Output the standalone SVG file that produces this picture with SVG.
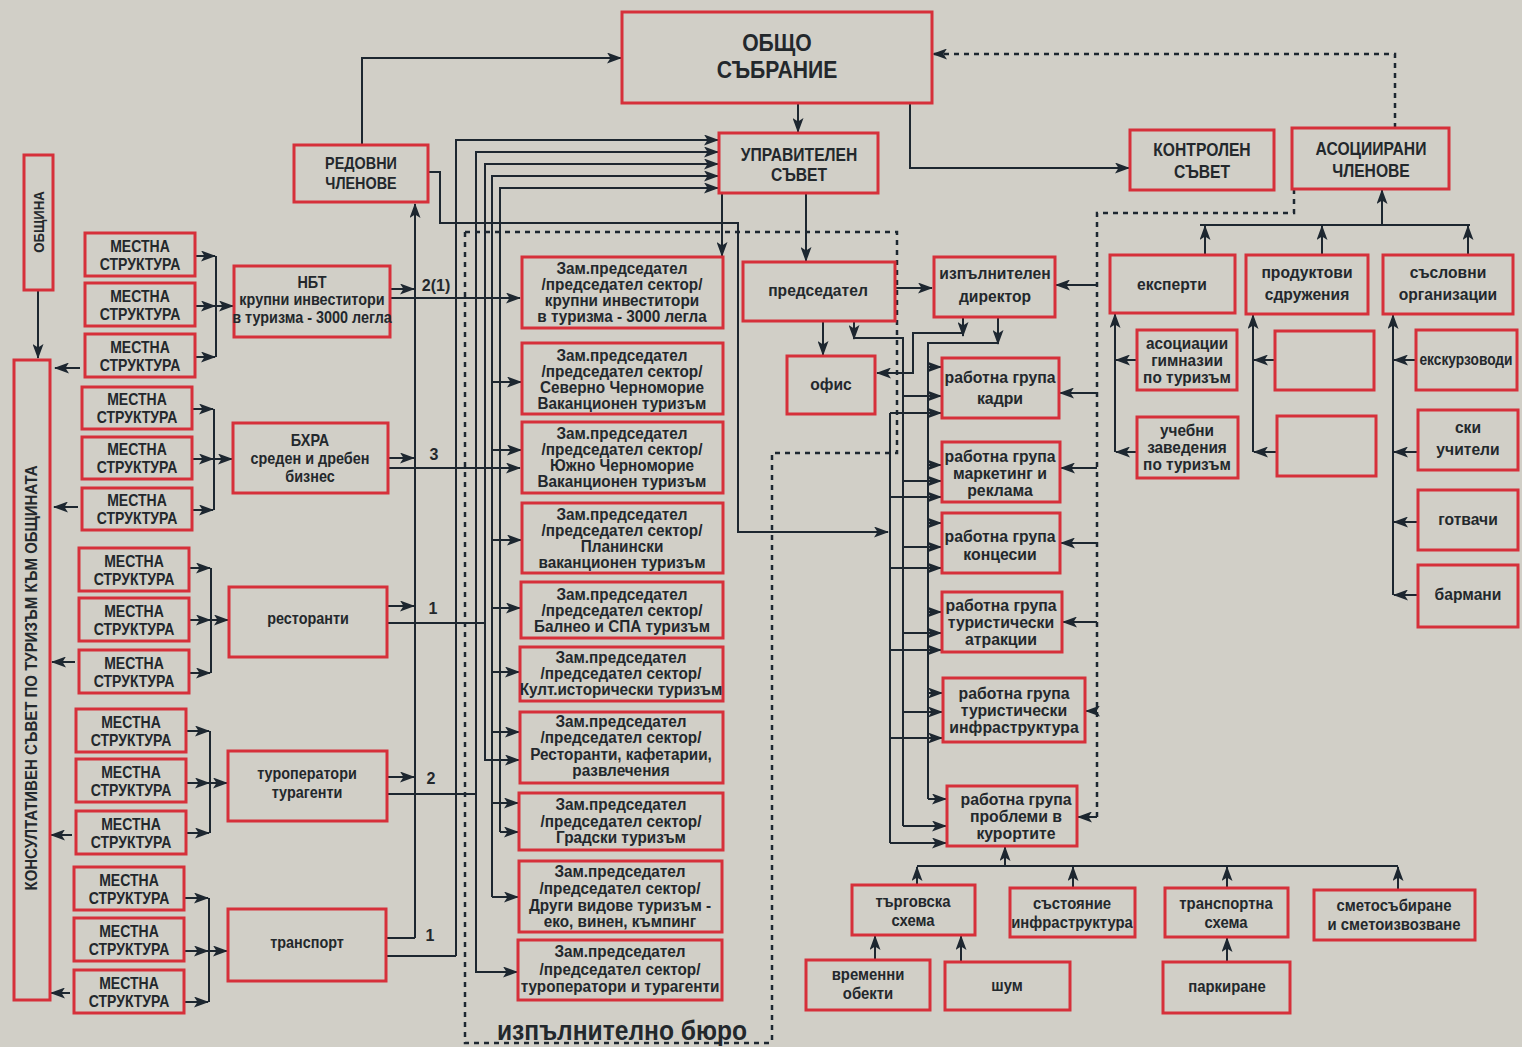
<svg xmlns="http://www.w3.org/2000/svg" width="1522" height="1047" viewBox="0 0 1522 1047">
<style>
.bx{fill:none;stroke:#d6303a;stroke-width:3}
.ln{fill:none;stroke:#1d2730;stroke-width:2}
.ar{marker-end:url(#ah)}
.ds{fill:none;stroke:#1d2730;stroke-width:2.5;stroke-dasharray:5 5}
.t{font-family:"Liberation Sans",Arial,sans-serif;font-weight:bold;fill:#23282c;text-anchor:middle;transform-box:fill-box;transform-origin:center}
.m{font-size:16.5px;transform:scaleX(.85)}
.z{font-size:17px;transform:scaleX(.9)}
.g{font-size:16px;transform:scaleX(.9)}
.h{font-size:18px;transform:scaleX(.87)}
.w{font-size:17px;transform:scaleX(.93)}
.r{font-size:17px;transform:scaleX(.92)}
.q{font-size:16px;transform:scaleX(.96)}
.b{font-size:16px;transform:scaleX(.93)}
.n{font-size:16px}
</style>
<defs>
<marker id="ah" viewBox="0 0 15 11" refX="14" refY="5.5" markerWidth="15" markerHeight="11" markerUnits="userSpaceOnUse" orient="auto"><path d="M0,0 L15,5.5 L0,11 L3.5,5.5 Z" fill="#1d2730"/></marker>
</defs>
<rect x="0" y="0" width="1522" height="1047" fill="#d1cfc7"/>

<g id="connectors">
<path class="ln ar" d="M362,145 V58 H621"/>
<path class="ln ar" d="M798,103 V132"/>
<path class="ln ar" d="M910,103 V168 H1129"/>
<path class="ds ar" d="M1395,128 V54 H933"/>
<path class="ln ar" d="M722,193 V256"/>
<path class="ln ar" d="M806,193 V261"/>
<path class="ln ar" d="M428,172 H440 V223 H738 V532 H888"/>
<path class="ln ar" d="M415,938 V204"/>
<path class="ln" d="M386,938 H415"/>
<path class="ln ar" d="M390,289 H414"/>
<path class="ln ar" d="M388,458 H414"/>
<path class="ln ar" d="M387,606 H414"/>
<path class="ln ar" d="M387,777 H414"/>
<path class="ln ar" d="M390,298 H520"/>
<path class="ln ar" d="M388,468 H520"/>
<path class="ln" d="M387,623 H485"/>
<path class="ln" d="M387,794 H476"/>
<path class="ln" d="M386,956 H456"/>
<path class="ln ar" d="M456,956 V140 H718"/>
<path class="ln ar" d="M476,794 V152 H718"/>
<path class="ln ar" d="M476,794 V972 H517"/>
<path class="ln ar" d="M485,623 V164 H718"/>
<path class="ln ar" d="M485,623 V760 H519"/>
<path class="ln ar" d="M492,897 V176 H718"/>
<path class="ln ar" d="M492,897 H518"/>
<path class="ln ar" d="M500,832 V188 H718"/>
<path class="ln ar" d="M500,832 H518"/>
<path class="ln ar" d="M492,382 H521"/>
<path class="ln ar" d="M492,450 H521"/>
<path class="ln ar" d="M492,540 H521"/>
<path class="ln ar" d="M492,608 H520"/>
<path class="ln ar" d="M492,672 H519"/>
<path class="ln ar" d="M492,732 H519"/>
<path class="ln ar" d="M492,803 H518"/>
<path class="ln" d="M216,256 V357"/>
<path class="ln ar" d="M195,256 H215"/><path class="ln ar" d="M195,306 H215"/><path class="ln ar" d="M195,357 H215"/><path class="ln ar" d="M216,306 H233"/>
<path class="ln" d="M214,409 V510"/>
<path class="ln ar" d="M192,409 H213"/><path class="ln ar" d="M192,459 H213"/><path class="ln ar" d="M192,510 H213"/><path class="ln ar" d="M214,459 H232"/>
<path class="ln" d="M211,568 V673"/>
<path class="ln ar" d="M189,568 H210"/><path class="ln ar" d="M189,620 H210"/><path class="ln ar" d="M189,673 H210"/><path class="ln ar" d="M211,620 H228"/>
<path class="ln" d="M210,731 V833"/>
<path class="ln ar" d="M186,731 H209"/><path class="ln ar" d="M186,783 H209"/><path class="ln ar" d="M186,833 H209"/><path class="ln ar" d="M210,783 H227"/>
<path class="ln" d="M209,898 V1002"/>
<path class="ln ar" d="M184,898 H208"/><path class="ln ar" d="M184,951 H208"/><path class="ln ar" d="M184,1002 H208"/><path class="ln ar" d="M209,951 H227"/>
<path class="ln ar" d="M38,290 V358"/>
<path class="ln ar" d="M80,368 H55"/>
<path class="ln ar" d="M78,507 H54"/>
<path class="ln ar" d="M75,662 H52"/>
<path class="ln ar" d="M72,835 H51"/>
<path class="ln ar" d="M70,993 H51"/>
<path class="ds" d="M465,232 H897 V453 H772 V1043 M465,232 V1043 H772"/>
<path class="ln ar" d="M823,321 V355"/>
<path class="ln ar" d="M854,321 V339"/>
<path class="ln" d="M854,338 H903 V826"/>
<path class="ln ar" d="M895,288 H932"/>
<path class="ln ar" d="M963,317 V336"/>
<path class="ln ar" d="M963,333 H913 V373 H877"/>
<path class="ln ar" d="M998,317 V344"/>
<path class="ln" d="M998,343 H928 V799"/>
<path class="ln" d="M890,413 V843"/>
<path class="ln ar" d="M890,413 H941"/>
<path class="ln ar" d="M890,497 H941"/>
<path class="ln ar" d="M890,568 H941"/>
<path class="ln ar" d="M890,650 H941"/>
<path class="ln ar" d="M890,738 H942"/>
<path class="ln ar" d="M890,843 H946"/>
<path class="ln ar" d="M903,396 H941"/>
<path class="ln ar" d="M903,481 H941"/>
<path class="ln ar" d="M903,547 H941"/>
<path class="ln ar" d="M903,633 H941"/>
<path class="ln ar" d="M903,712 H942"/>
<path class="ln ar" d="M903,826 H946"/>
<path class="ln ar" d="M928,367 H941"/>
<path class="ln ar" d="M928,465 H941"/>
<path class="ln ar" d="M928,523 H941"/>
<path class="ln ar" d="M928,612 H941"/>
<path class="ln ar" d="M928,693 H942"/>
<path class="ln ar" d="M928,799 H946"/>
<path class="ds" d="M1294,189 V213 H1097 V817"/>
<path class="ln ar" d="M1097,285 H1056"/>
<path class="ln ar" d="M1097,393 H1060"/>
<path class="ln ar" d="M1097,468 H1061"/>
<path class="ln ar" d="M1097,543 H1061"/>
<path class="ln ar" d="M1097,622 H1063"/>
<path class="ln ar" d="M1097,711 H1086"/>
<path class="ln ar" d="M1097,817 H1078"/>
<path class="ln ar" d="M1382,225 V190"/>
<path class="ln" d="M1200,225 H1470"/>
<path class="ln ar" d="M1205,255 V226"/>
<path class="ln ar" d="M1322,255 V226"/>
<path class="ln ar" d="M1468,255 V226"/>
<path class="ln ar" d="M1115,452 V314"/>
<path class="ln ar" d="M1137,360 H1116"/>
<path class="ln ar" d="M1137,452 H1116"/>
<path class="ln ar" d="M1253,452 V315"/>
<path class="ln ar" d="M1275,360 H1254"/>
<path class="ln ar" d="M1277,452 H1254"/>
<path class="ln ar" d="M1393,595 V315"/>
<path class="ln ar" d="M1416,360 H1394"/>
<path class="ln ar" d="M1418,452 H1394"/>
<path class="ln ar" d="M1418,522 H1394"/>
<path class="ln ar" d="M1418,595 H1394"/>
<path class="ln ar" d="M1005,866 V847"/>
<path class="ln" d="M917,866 H1398"/>
<path class="ln ar" d="M917,885 V867"/>
<path class="ln ar" d="M1073,888 V867"/>
<path class="ln ar" d="M1227,888 V867"/>
<path class="ln ar" d="M1398,890 V867"/>
<path class="ln ar" d="M875,960 V936"/>
<path class="ln ar" d="M961,962 V936"/>
<path class="ln ar" d="M1227,962 V938"/>
</g>

<g id="labels">
<text class="t n" x="436" y="291">2(1)</text>
<text class="t n" x="434" y="460">3</text>
<text class="t n" x="433" y="614">1</text>
<text class="t n" x="431" y="784">2</text>
<text class="t n" x="430" y="941">1</text>
<text class="t" x="622" y="1040" style="font-size:27px" textLength="250" lengthAdjust="spacingAndGlyphs">изпълнително бюро</text>
</g>

<g id="obshto-sabranie"><rect class="bx" x="622" y="12" width="310" height="91"/><text class="t" style="font-size:23px;transform:scaleX(.92)" x="777" y="51">ОБЩО</text><text class="t" style="font-size:23px;transform:scaleX(.92)" x="777" y="78">СЪБРАНИЕ</text></g>
<g id="upravitelen-savet"><rect class="bx" x="719" y="133" width="159" height="60"/><text class="t h" x="799" y="161">УПРАВИТЕЛЕН</text><text class="t h" x="799" y="181">СЪВЕТ</text></g>
<g id="redovni-chlenove"><rect class="bx" x="294" y="145" width="134" height="57"/><text class="t g" x="361" y="169">РЕДОВНИ</text><text class="t g" x="361" y="189">ЧЛЕНОВЕ</text></g>
<g id="kontrolen-savet"><rect class="bx" x="1130" y="130" width="144" height="60"/><text class="t h" x="1202" y="156">КОНТРОЛЕН</text><text class="t h" x="1202" y="178">СЪВЕТ</text></g>
<g id="asociirani-chlenove"><rect class="bx" x="1292" y="128" width="157" height="61"/><text class="t h" x="1371" y="155">АСОЦИИРАНИ</text><text class="t h" x="1371" y="177">ЧЛЕНОВЕ</text></g>
<g id="obshtina"><rect class="bx" x="24" y="155" width="29" height="135"/><text font-family="Liberation Sans, Arial, sans-serif" font-weight="bold" font-size="15" fill="#23282c" text-anchor="middle" transform="translate(44,222) rotate(-90) scale(0.88,1)">ОБЩИНА</text></g>
<g id="konsultativen-savet"><rect class="bx" x="14" y="360" width="36" height="640"/><text font-family="Liberation Sans, Arial, sans-serif" font-weight="bold" font-size="17" fill="#23282c" text-anchor="middle" transform="translate(37,678) rotate(-90)" textLength="425" lengthAdjust="spacingAndGlyphs">КОНСУЛТАТИВЕН СЪВЕТ ПО ТУРИЗЪМ КЪМ ОБЩИНАТА</text></g>

<g id="mestna-1"><rect class="bx" x="85" y="233" width="110" height="43"/><text class="t m" x="140" y="252">МЕСТНА</text><text class="t m" x="140" y="270">СТРУКТУРА</text></g>
<g id="mestna-2"><rect class="bx" x="85" y="283" width="110" height="43"/><text class="t m" x="140" y="302">МЕСТНА</text><text class="t m" x="140" y="320">СТРУКТУРА</text></g>
<g id="mestna-3"><rect class="bx" x="85" y="334" width="110" height="43"/><text class="t m" x="140" y="353">МЕСТНА</text><text class="t m" x="140" y="371">СТРУКТУРА</text></g>
<g id="mestna-4"><rect class="bx" x="82" y="387" width="110" height="42"/><text class="t m" x="137" y="405">МЕСТНА</text><text class="t m" x="137" y="423">СТРУКТУРА</text></g>
<g id="mestna-5"><rect class="bx" x="82" y="437" width="110" height="42"/><text class="t m" x="137" y="455">МЕСТНА</text><text class="t m" x="137" y="473">СТРУКТУРА</text></g>
<g id="mestna-6"><rect class="bx" x="82" y="488" width="110" height="42"/><text class="t m" x="137" y="506">МЕСТНА</text><text class="t m" x="137" y="524">СТРУКТУРА</text></g>
<g id="mestna-7"><rect class="bx" x="79" y="548" width="110" height="43"/><text class="t m" x="134" y="567">МЕСТНА</text><text class="t m" x="134" y="585">СТРУКТУРА</text></g>
<g id="mestna-8"><rect class="bx" x="79" y="598" width="110" height="43"/><text class="t m" x="134" y="617">МЕСТНА</text><text class="t m" x="134" y="635">СТРУКТУРА</text></g>
<g id="mestna-9"><rect class="bx" x="79" y="650" width="110" height="43"/><text class="t m" x="134" y="669">МЕСТНА</text><text class="t m" x="134" y="687">СТРУКТУРА</text></g>
<g id="mestna-10"><rect class="bx" x="76" y="709" width="110" height="43"/><text class="t m" x="131" y="728">МЕСТНА</text><text class="t m" x="131" y="746">СТРУКТУРА</text></g>
<g id="mestna-11"><rect class="bx" x="76" y="759" width="110" height="43"/><text class="t m" x="131" y="778">МЕСТНА</text><text class="t m" x="131" y="796">СТРУКТУРА</text></g>
<g id="mestna-12"><rect class="bx" x="76" y="811" width="110" height="43"/><text class="t m" x="131" y="830">МЕСТНА</text><text class="t m" x="131" y="848">СТРУКТУРА</text></g>
<g id="mestna-13"><rect class="bx" x="74" y="867" width="110" height="43"/><text class="t m" x="129" y="886">МЕСТНА</text><text class="t m" x="129" y="904">СТРУКТУРА</text></g>
<g id="mestna-14"><rect class="bx" x="74" y="918" width="110" height="43"/><text class="t m" x="129" y="937">МЕСТНА</text><text class="t m" x="129" y="955">СТРУКТУРА</text></g>
<g id="mestna-15"><rect class="bx" x="74" y="970" width="110" height="43"/><text class="t m" x="129" y="989">МЕСТНА</text><text class="t m" x="129" y="1007">СТРУКТУРА</text></g>

<g id="nbt"><rect class="bx" x="234" y="266" width="156" height="71"/><text class="t g" x="312" y="288">НБТ</text><text class="t g" x="312" y="305">крупни инвеститори</text><text class="t g" x="312" y="323">в туризма - 3000 легла</text></g>
<g id="bhra"><rect class="bx" x="233" y="423" width="155" height="70"/><text class="t g" x="310" y="446">БХРА</text><text class="t g" x="310" y="464">среден и дребен</text><text class="t g" x="310" y="482">бизнес</text></g>
<g id="restoranti"><rect class="bx" x="229" y="587" width="158" height="70"/><text class="t g" x="308" y="624">ресторанти</text></g>
<g id="turoperatori"><rect class="bx" x="228" y="751" width="159" height="70"/><text class="t g" x="307" y="779">туроператори</text><text class="t g" x="307" y="798">турагенти</text></g>
<g id="transport"><rect class="bx" x="228" y="909" width="158" height="72"/><text class="t g" x="307" y="948">транспорт</text></g>

<g id="zam-1"><rect class="bx" x="522" y="257" width="201" height="71"/><text class="t z" x="622" y="274">Зам.председател</text><text class="t z" x="622" y="290">/председател сектор/</text><text class="t z" x="622" y="306">крупни инвеститори</text><text class="t z" x="622" y="322">в туризма - 3000 легла</text></g>
<g id="zam-2"><rect class="bx" x="522" y="343" width="201" height="71"/><text class="t z" x="622" y="361">Зам.председател</text><text class="t z" x="622" y="377">/председател сектор/</text><text class="t z" x="622" y="393">Северно Черноморие</text><text class="t z" x="622" y="409">Ваканционен туризъм</text></g>
<g id="zam-3"><rect class="bx" x="522" y="422" width="201" height="71"/><text class="t z" x="622" y="439">Зам.председател</text><text class="t z" x="622" y="455">/председател сектор/</text><text class="t z" x="622" y="471">Южно Черноморие</text><text class="t z" x="622" y="487">Ваканционен туризъм</text></g>
<g id="zam-4"><rect class="bx" x="522" y="503" width="201" height="70"/><text class="t z" x="622" y="520">Зам.председател</text><text class="t z" x="622" y="536">/председател сектор/</text><text class="t z" x="622" y="552">Планински</text><text class="t z" x="622" y="568">ваканционен туризъм</text></g>
<g id="zam-5"><rect class="bx" x="521" y="582" width="202" height="56"/><text class="t z" x="622" y="600">Зам.председател</text><text class="t z" x="622" y="616">/председател сектор/</text><text class="t z" x="622" y="632">Балнео и СПА туризъм</text></g>
<g id="zam-6"><rect class="bx" x="520" y="647" width="203" height="54"/><text class="t z" x="621" y="663">Зам.председател</text><text class="t z" x="621" y="679">/председател сектор/</text><text class="t z" x="621" y="695">Култ.исторически туризъм</text></g>
<g id="zam-7"><rect class="bx" x="520" y="712" width="203" height="71"/><text class="t z" x="621" y="727">Зам.председател</text><text class="t z" x="621" y="743">/председател сектор/</text><text class="t z" x="621" y="760">Ресторанти, кафетарии,</text><text class="t z" x="621" y="776">развлечения</text></g>
<g id="zam-8"><rect class="bx" x="519" y="793" width="204" height="57"/><text class="t z" x="621" y="810">Зам.председател</text><text class="t z" x="621" y="827">/председател сектор/</text><text class="t z" x="621" y="843">Градски туризъм</text></g>
<g id="zam-9"><rect class="bx" x="519" y="861" width="203" height="71"/><text class="t z" x="620" y="877">Зам.председател</text><text class="t z" x="620" y="894">/председател сектор/</text><text class="t z" x="620" y="911">Други видове туризъм -</text><text class="t z" x="620" y="927">еко, винен, къмпинг</text></g>
<g id="zam-10"><rect class="bx" x="518" y="940" width="204" height="60"/><text class="t z" x="620" y="957">Зам.председател</text><text class="t z" x="620" y="975">/председател сектор/</text><text class="t z" x="620" y="992">туроператори и турагенти</text></g>

<g id="predsedatel"><rect class="bx" x="743" y="262" width="152" height="59"/><text class="t r" x="818" y="296">председател</text></g>
<g id="ofis"><rect class="bx" x="787" y="356" width="88" height="58"/><text class="t r" x="831" y="390">офис</text></g>
<g id="izpalnitelen-direktor"><rect class="bx" x="934" y="257" width="121" height="60"/><text class="t r" x="995" y="279">изпълнителен</text><text class="t r" x="995" y="302">директор</text></g>
<g id="rg-kadri"><rect class="bx" x="942" y="358" width="117" height="60"/><text class="t w" x="1000" y="383">работна група</text><text class="t w" x="1000" y="404">кадри</text></g>
<g id="rg-marketing"><rect class="bx" x="942" y="442" width="118" height="60"/><text class="t w" x="1000" y="462">работна група</text><text class="t w" x="1000" y="479">маркетинг и</text><text class="t w" x="1000" y="496">реклама</text></g>
<g id="rg-koncesii"><rect class="bx" x="942" y="513" width="118" height="60"/><text class="t w" x="1000" y="542">работна група</text><text class="t w" x="1000" y="560">концесии</text></g>
<g id="rg-atrakcii"><rect class="bx" x="942" y="592" width="120" height="60"/><text class="t w" x="1001" y="611">работна група</text><text class="t w" x="1001" y="628">туристически</text><text class="t w" x="1001" y="645">атракции</text></g>
<g id="rg-infrastruktura"><rect class="bx" x="943" y="678" width="142" height="64"/><text class="t w" x="1014" y="699">работна група</text><text class="t w" x="1014" y="716">туристически</text><text class="t w" x="1014" y="733">инфраструктура</text></g>
<g id="rg-problemi"><rect class="bx" x="947" y="786" width="130" height="60"/><text class="t w" x="1016" y="805">работна група</text><text class="t w" x="1016" y="822">проблеми в</text><text class="t w" x="1016" y="839">курортите</text></g>

<g id="eksperti"><rect class="bx" x="1110" y="255" width="125" height="58"/><text class="t r" x="1172" y="290">експерти</text></g>
<g id="produktovi-sdruzhenia"><rect class="bx" x="1246" y="255" width="122" height="59"/><text class="t r" x="1307" y="278">продуктови</text><text class="t r" x="1307" y="300">сдружения</text></g>
<g id="saslovni-organizacii"><rect class="bx" x="1383" y="255" width="130" height="59"/><text class="t r" x="1448" y="278">съсловни</text><text class="t r" x="1448" y="300">организации</text></g>
<g id="asociacii-gimnazii"><rect class="bx" x="1137" y="330" width="100" height="60"/><text class="t q" x="1187" y="349">асоциации</text><text class="t q" x="1187" y="366">гимназии</text><text class="t q" x="1187" y="383">по туризъм</text></g>
<g id="uchebni-zavedenia"><rect class="bx" x="1137" y="417" width="101" height="61"/><text class="t q" x="1187" y="436">учебни</text><text class="t q" x="1187" y="453">заведения</text><text class="t q" x="1187" y="470">по туризъм</text></g>
<g id="empty-1"><rect class="bx" x="1275" y="331" width="99" height="59"/></g>
<g id="empty-2"><rect class="bx" x="1277" y="416" width="99" height="60"/></g>
<g id="ekskurzovodi"><rect class="bx" x="1416" y="330" width="101" height="60"/><text class="t" style="font-size:16px;transform:scaleX(.86)" x="1466" y="365">екскурзоводи</text></g>
<g id="ski-uchiteli"><rect class="bx" x="1418" y="410" width="100" height="60"/><text class="t r" x="1468" y="433">ски</text><text class="t r" x="1468" y="455">учители</text></g>
<g id="gotvachi"><rect class="bx" x="1418" y="490" width="100" height="60"/><text class="t r" x="1468" y="525">готвачи</text></g>
<g id="barmani"><rect class="bx" x="1418" y="565" width="100" height="62"/><text class="t r" x="1468" y="600">бармани</text></g>

<g id="targovska-shema"><rect class="bx" x="852" y="885" width="123" height="50"/><text class="t b" x="913" y="907">търговска</text><text class="t b" x="913" y="926">схема</text></g>
<g id="sastoyanie-infrastruktura"><rect class="bx" x="1010" y="888" width="125" height="49"/><text class="t b" x="1072" y="909">състояние</text><text class="t b" x="1072" y="928">инфраструктура</text></g>
<g id="transportna-shema"><rect class="bx" x="1165" y="888" width="123" height="49"/><text class="t b" x="1226" y="909">транспортна</text><text class="t b" x="1226" y="928">схема</text></g>
<g id="smetosabirane"><rect class="bx" x="1314" y="890" width="161" height="50"/><text class="t b" x="1394" y="911">сметосъбиране</text><text class="t b" x="1394" y="930">и сметоизвозване</text></g>
<g id="vremenni-obekti"><rect class="bx" x="806" y="960" width="124" height="50"/><text class="t b" x="868" y="980">временни</text><text class="t b" x="868" y="999">обекти</text></g>
<g id="shum"><rect class="bx" x="945" y="962" width="125" height="48"/><text class="t b" x="1007" y="991">шум</text></g>
<g id="parkirane"><rect class="bx" x="1163" y="962" width="127" height="51"/><text class="t b" x="1227" y="992">паркиране</text></g>
</svg>
